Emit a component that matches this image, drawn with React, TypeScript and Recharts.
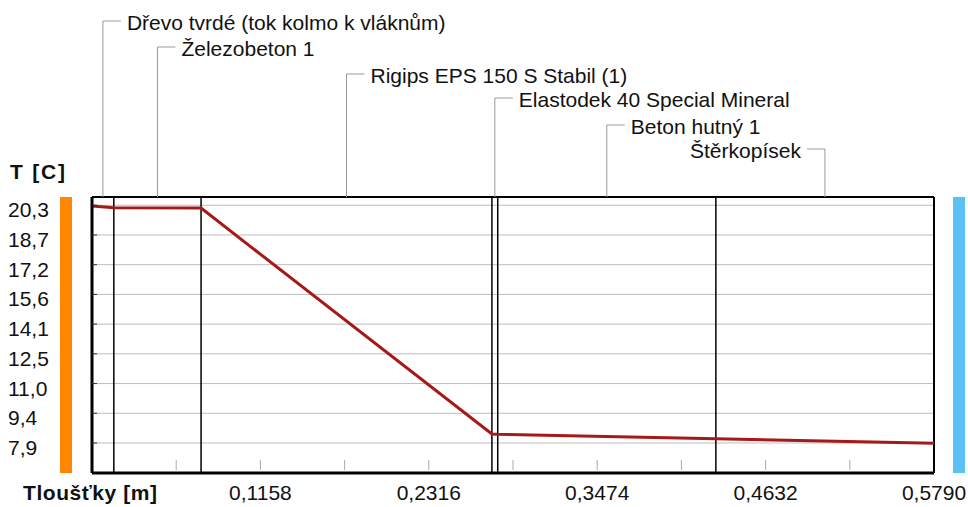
import React from 'react';
import { ComposedChart, Line, XAxis, YAxis, CartesianGrid, ReferenceLine } from 'recharts';

// ---- data ----
const LAYER_NAMES = [
  'Dřevo tvrdé (tok kolmo k vláknům)',
  'Železobeton 1',
  'Rigips EPS 150 S Stabil (1)',
  'Elastodek 40 Special Mineral',
  'Beton hutný 1',
  'Štěrkopísek',
];
const LAYER_BOUNDS = [0, 0.015, 0.075, 0.275, 0.279, 0.429, 0.579];
const PROFILE_X = [0, 0.015, 0.075, 0.275, 0.279, 0.429, 0.579];
const PROFILE_T = [20.26, 20.17, 20.15, 8.37, 8.35, 8.12, 7.89];
const Y_TICKS = [20.3, 18.75, 17.2, 15.65, 14.1, 12.55, 11.0, 9.45, 7.9];
const Y_TICK_LABELS = ['20,3', '18,7', '17,2', '15,6', '14,1', '12,5', '11,0', '9,4', '7,9'];
const X_MINOR_TICKS = [0.0579, 0.1158, 0.1737, 0.2316, 0.2895, 0.3474, 0.4053, 0.4632, 0.5211];
const X_LABEL_TICKS = [0.1158, 0.2316, 0.3474, 0.4632, 0.579];
const X_TICK_LABELS = ['0,1158', '0,2316', '0,3474', '0,4632', '0,5790'];
const Y_DOMAIN: [number, number] = [6.335, 20.73];
const X_DOMAIN: [number, number] = [0, 0.579];

// ---- layout / style ----
const W = 968;
const H = 507;
const MARGIN = { top: 197, right: 34, bottom: 4, left: 32 };
const Y_AXIS_W = 60;
const PLOT_LEFT = MARGIN.left + Y_AXIS_W;
const LEADER_Y = [21, 47, 74, 98, 125, 149];
const LABEL_ON_LEFT = [false, false, false, false, false, true];
const FONT = '"Liberation Sans", Arial, sans-serif';
const FS = 21;
const LINE_RED = '#a51919';
const LEADER_GRAY = '#9a9a9a';

const data = PROFILE_X.map((x, i) => ({ x, t: PROFILE_T[i] }));
const layerMids = LAYER_NAMES.map((_, i) => (LAYER_BOUNDS[i] + LAYER_BOUNDS[i + 1]) / 2);

const YTick = (props: any) => {
  const { y, payload } = props;
  const idx = Y_TICKS.indexOf(payload.value);
  return (
    <g>
      <line x1={PLOT_LEFT} x2={PLOT_LEFT + 5} y1={y} y2={y} stroke="#333" strokeWidth={1} />
      <text x={8} y={y + 12} fontSize={FS} fontFamily={FONT} fill="#111" textAnchor="start">
        {Y_TICK_LABELS[idx]}
      </text>
    </g>
  );
};

const XTick = (props: any) => {
  const { x, payload } = props;
  const idx = X_LABEL_TICKS.indexOf(payload.value);
  return (
    <text x={x} y={500} fontSize={FS} fontFamily={FONT} fill="#111" textAnchor="middle">
      {X_TICK_LABELS[idx]}
    </text>
  );
};

const leaderShape = (i: number) => (p: any) => {
  const x = p.x1;
  const top = Math.min(p.y1, p.y2);
  const ly = LEADER_Y[i];
  const left = LABEL_ON_LEFT[i];
  return (
    <g>
      <line x1={x} x2={x} y1={top} y2={ly} stroke={LEADER_GRAY} strokeWidth={1} />
      <line x1={x} x2={left ? x - 18 : x + 18} y1={ly} y2={ly} stroke={LEADER_GRAY} strokeWidth={1} />
      <text
        x={left ? x - 24 : x + 24}
        y={ly + 8.5}
        fontSize={FS}
        fontFamily={FONT}
        fill="#111"
        textAnchor={left ? 'end' : 'start'}
      >
        {LAYER_NAMES[i]}
      </text>
    </g>
  );
};

const minorTickShape = (p: any) => {
  const bottom = Math.max(p.y1, p.y2);
  return <line x1={p.x1} x2={p.x1} y1={bottom - 13} y2={bottom - 3} stroke="#aaaaaa" strokeWidth={1} />;
};

const leftBarShape = (p: any) => {
  const top = Math.min(p.y1, p.y2);
  const bottom = Math.max(p.y1, p.y2);
  return <rect x={p.x1 - 32} y={top} width={12} height={bottom - top} fill="#ff8800" />;
};

const rightBarShape = (p: any) => {
  const top = Math.min(p.y1, p.y2);
  const bottom = Math.max(p.y1, p.y2);
  return (
    <g>
      <line x1={p.x1} x2={p.x1} y1={top} y2={bottom} stroke="#000" strokeWidth={2} />
      <rect x={p.x1 + 19} y={top} width={12} height={bottom - top} fill="#5bc0f8" />
    </g>
  );
};

const yTitle = (props: any) => {
  const vb = props.viewBox || { y: MARGIN.top };
  return (
    <text x={10} y={vb.y - 18} fontSize={FS} fontWeight="bold" fontFamily={FONT} fill="#111" textLength={55} lengthAdjust="spacing">
      T [C]
    </text>
  );
};

const xTitle = (props: any) => {
  const vb = props.viewBox || { y: H - MARGIN.bottom - 30 };
  return (
    <text x={23} y={vb.y + 27} fontSize={FS} fontWeight="bold" fontFamily={FONT} fill="#111" textLength={134} lengthAdjust="spacing">
      Tloušťky [m]
    </text>
  );
};

export default function App() {
  return (
    <div style={{ position: 'absolute', left: 0, top: 0, width: W, height: H, background: '#fff' }}>
      <ComposedChart width={W} height={H} data={data} margin={MARGIN}>
        <CartesianGrid horizontal vertical={false} stroke="#bdbdbd" strokeWidth={1} />
        <XAxis
          dataKey="x"
          type="number"
          domain={X_DOMAIN}
          ticks={X_LABEL_TICKS}
          interval={0}
          height={30}
          axisLine={{ stroke: '#000', strokeWidth: 3 }}
          tickLine={false}
          tick={<XTick />}
          allowDataOverflow
          label={xTitle}
        />
        <YAxis
          type="number"
          domain={Y_DOMAIN}
          ticks={Y_TICKS}
          interval={0}
          width={Y_AXIS_W}
          axisLine={{ stroke: '#000', strokeWidth: 3 }}
          tickLine={false}
          tick={<YTick />}
          allowDataOverflow
          label={yTitle}
        />
        <ReferenceLine y={Y_DOMAIN[1]} stroke="#000" strokeWidth={2} />
        <ReferenceLine x={X_DOMAIN[0]} shape={leftBarShape} />
        <ReferenceLine x={X_DOMAIN[1]} shape={rightBarShape} />
        {X_MINOR_TICKS.map((t) => (
          <ReferenceLine key={'mt' + t} x={t} shape={minorTickShape} />
        ))}
        {LAYER_BOUNDS.slice(1, -1).map((b) => (
          <ReferenceLine key={'lb' + b} x={b} stroke="#000" strokeWidth={1.5} />
        ))}
        {layerMids.map((m, i) => (
          <ReferenceLine key={'ld' + i} x={m} shape={leaderShape(i)} />
        ))}
        <Line
          dataKey="t"
          type="linear"
          stroke={LINE_RED}
          strokeWidth={3}
          dot={false}
          activeDot={false}
          isAnimationActive={false}
        />
      </ComposedChart>
    </div>
  );
}
